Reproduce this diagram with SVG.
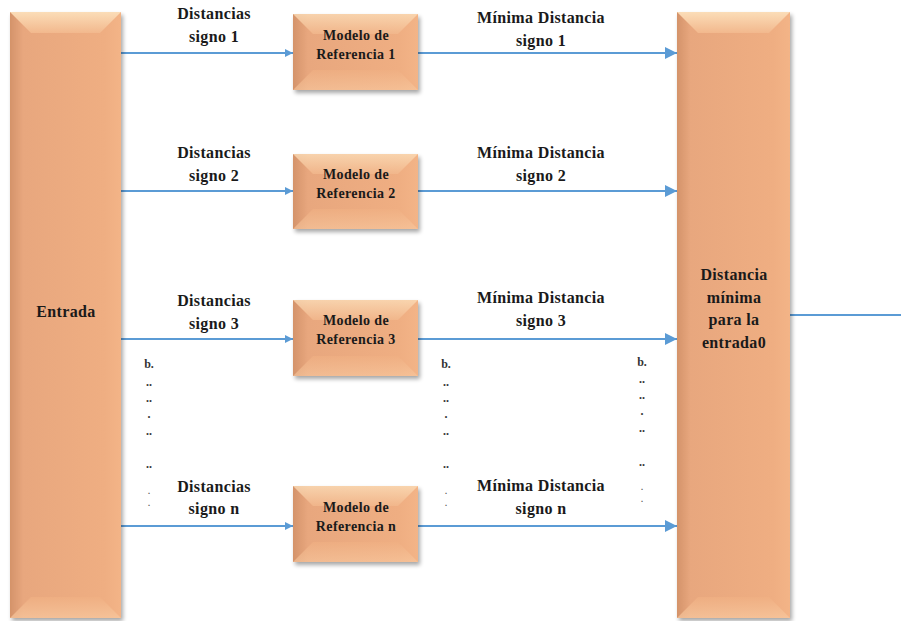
<svg xmlns="http://www.w3.org/2000/svg" width="901" height="621" viewBox="0 0 901 621">
<defs>
<linearGradient id="body" x1="0" y1="0" x2="1" y2="0">
<stop offset="0" stop-color="#D4936A"/>
<stop offset="0.12" stop-color="#E8A77E"/>
<stop offset="0.85" stop-color="#EFAE82"/>
<stop offset="1" stop-color="#F3B487"/>
</linearGradient>
<linearGradient id="topbev" x1="0" y1="0" x2="0" y2="1">
<stop offset="0" stop-color="#FBDDB8"/>
<stop offset="1" stop-color="#F2B88D"/>
</linearGradient>
<linearGradient id="botbev" x1="0" y1="0" x2="0" y2="1">
<stop offset="0" stop-color="#F0B083"/>
<stop offset="1" stop-color="#F8C9A0"/>
</linearGradient>
<filter id="sh" x="-10%" y="-10%" width="130%" height="130%">
<feGaussianBlur in="SourceAlpha" stdDeviation="2"/>
<feOffset dx="2" dy="3"/>
<feComponentTransfer><feFuncA type="linear" slope="0.35"/></feComponentTransfer>
<feMerge><feMergeNode/><feMergeNode in="SourceGraphic"/></feMerge>
</filter>
<marker id="as" viewBox="0 0 10 10" refX="10" refY="5" markerWidth="4" markerHeight="4" orient="auto" markerUnits="strokeWidth"><path d="M0,0 L10,5 L0,10 z" fill="#5B9BD5"/></marker>
<marker id="al" viewBox="0 0 10 10" refX="10" refY="5" markerWidth="6" markerHeight="6" orient="auto" markerUnits="strokeWidth"><path d="M0,0 L10,5 L0,10 z" fill="#5B9BD5"/></marker>
</defs>
<style>
text{font-family:"Liberation Serif","DejaVu Serif",serif;font-weight:bold;fill:#1a1a1a;text-anchor:middle}
.lb{font-size:16px;letter-spacing:0.35px}
.mb{font-size:14px;letter-spacing:0.4px}
.dt{font-size:12px;fill:#333}
.ds{font-size:8px;fill:#555}
.ln{stroke:#5B9BD5;stroke-width:2;fill:none}
</style>
<g id="connectors">
<line class="ln" x1="121" y1="53" x2="293" y2="53" marker-end="url(#as)"/>
<line class="ln" x1="121" y1="191" x2="293" y2="191" marker-end="url(#as)"/>
<line class="ln" x1="121" y1="339" x2="293" y2="339" marker-end="url(#as)"/>
<line class="ln" x1="121" y1="526" x2="293" y2="526" marker-end="url(#as)"/>
<line class="ln" x1="418" y1="53" x2="677" y2="53" marker-end="url(#al)"/>
<line class="ln" x1="418" y1="191" x2="677" y2="191" marker-end="url(#al)"/>
<line class="ln" x1="418" y1="339" x2="677" y2="339" marker-end="url(#al)"/>
<line class="ln" x1="418" y1="526" x2="677" y2="526" marker-end="url(#al)"/>
<line class="ln" x1="790" y1="315" x2="901" y2="315"/>
</g>
<g id="entrada">
<rect x="10" y="12" width="111" height="606" fill="url(#body)" filter="url(#sh)"/>
<polygon points="10,12 121,12 100,33 31,33" fill="url(#topbev)"/>
<polygon points="10,618 121,618 100,597 31,597" fill="url(#botbev)" opacity="0.7"/>
<text class="lb" x="66" y="317">Entrada</text>
</g>
<g id="salida">
<rect x="677" y="12" width="113" height="606" fill="url(#body)" filter="url(#sh)"/>
<polygon points="677,12 790,12 769,33 698,33" fill="url(#topbev)"/>
<polygon points="677,618 790,618 769,597 698,597" fill="url(#botbev)" opacity="0.7"/>
<text class="lb" x="734" y="280">Distancia</text>
<text class="lb" x="734" y="303">mínima</text>
<text class="lb" x="734" y="325">para la</text>
<text class="lb" x="734" y="348">entrada0</text>
</g>
<g id="modelo1">
<rect x="293" y="14" width="125" height="76" fill="url(#body)" filter="url(#sh)"/>
<polygon points="293,14 418,14 398,34 313,34" fill="url(#topbev)" opacity="0.8"/>
<polygon points="293,90 418,90 398,70 313,70" fill="url(#botbev)" opacity="0.6"/>
<text class="mb" x="356" y="40">Modelo de</text>
<text class="mb" x="356" y="59">Referencia 1</text>
</g>
<g id="modelo2">
<rect x="293" y="154" width="125" height="75" fill="url(#body)" filter="url(#sh)"/>
<polygon points="293,154 418,154 398,174 313,174" fill="url(#topbev)" opacity="0.8"/>
<polygon points="293,229 418,229 398,209 313,209" fill="url(#botbev)" opacity="0.6"/>
<text class="mb" x="356" y="179">Modelo de</text>
<text class="mb" x="356" y="198">Referencia 2</text>
</g>
<g id="modelo3">
<rect x="293" y="300" width="125" height="76" fill="url(#body)" filter="url(#sh)"/>
<polygon points="293,300 418,300 398,320 313,320" fill="url(#topbev)" opacity="0.8"/>
<polygon points="293,376 418,376 398,356 313,356" fill="url(#botbev)" opacity="0.6"/>
<text class="mb" x="356" y="325">Modelo de</text>
<text class="mb" x="356" y="344">Referencia 3</text>
</g>
<g id="modelon">
<rect x="293" y="486" width="125" height="76" fill="url(#body)" filter="url(#sh)"/>
<polygon points="293,486 418,486 398,506 313,506" fill="url(#topbev)" opacity="0.8"/>
<polygon points="293,562 418,562 398,542 313,542" fill="url(#botbev)" opacity="0.6"/>
<text class="mb" x="356" y="512">Modelo de</text>
<text class="mb" x="356" y="531">Referencia n</text>
</g>
<g id="labels">
<text class="lb" x="214" y="19">Distancias</text>
<text class="lb" x="214" y="42">signo 1</text>
<text class="lb" x="541" y="23">Mínima Distancia</text>
<text class="lb" x="541" y="46">signo 1</text>
<text class="lb" x="214" y="158">Distancias</text>
<text class="lb" x="214" y="181">signo 2</text>
<text class="lb" x="541" y="158">Mínima Distancia</text>
<text class="lb" x="541" y="181">signo 2</text>
<text class="lb" x="214" y="306">Distancias</text>
<text class="lb" x="214" y="329">signo 3</text>
<text class="lb" x="541" y="303">Mínima Distancia</text>
<text class="lb" x="541" y="326">signo 3</text>
<text class="lb" x="214" y="492">Distancias</text>
<text class="lb" x="214" y="514">signo n</text>
<text class="lb" x="541" y="491">Mínima Distancia</text>
<text class="lb" x="541" y="514">signo n</text>
</g>
<g id="dots">
<text class="dt" x="149" y="368">b.</text>
<text class="dt" x="149" y="386">..</text>
<text class="dt" x="149" y="402">..</text>
<text class="dt" x="149" y="418">.</text>
<text class="dt" x="149" y="435">..</text>
<text class="dt" x="149" y="468">..</text>
<text class="ds" x="149" y="494">.</text>
<text class="ds" x="149" y="506">.</text>
<text class="dt" x="446" y="368">b.</text>
<text class="dt" x="446" y="386">..</text>
<text class="dt" x="446" y="402">..</text>
<text class="dt" x="446" y="418">.</text>
<text class="dt" x="446" y="435">..</text>
<text class="dt" x="446" y="468">..</text>
<text class="ds" x="446" y="494">.</text>
<text class="ds" x="446" y="506">.</text>
<text class="dt" x="642" y="366">b.</text>
<text class="dt" x="642" y="383">..</text>
<text class="dt" x="642" y="399">..</text>
<text class="dt" x="642" y="415">.</text>
<text class="dt" x="642" y="432">..</text>
<text class="dt" x="642" y="466">..</text>
<text class="ds" x="642" y="490">.</text>
<text class="ds" x="642" y="502">.</text>
</g>
</svg>
